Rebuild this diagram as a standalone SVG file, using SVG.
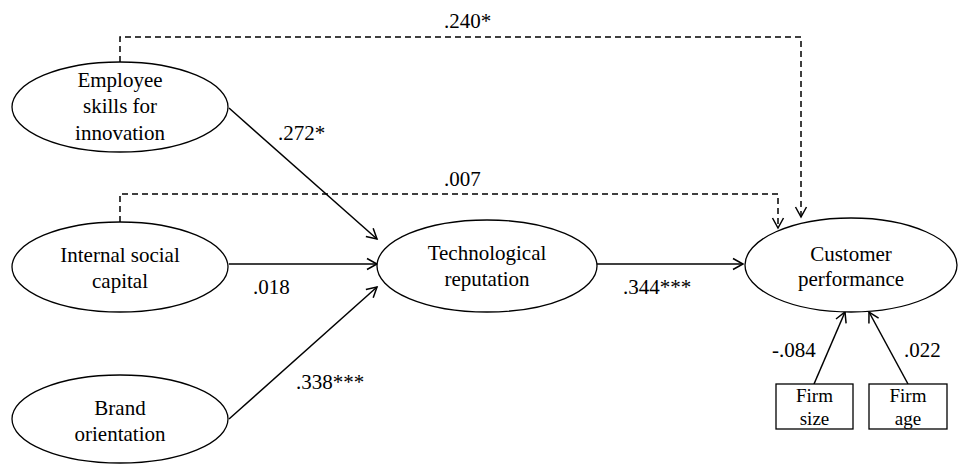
<svg xmlns="http://www.w3.org/2000/svg" width="959" height="464" viewBox="0 0 959 464">
<style>
.n{fill:#fff;stroke:#000;stroke-width:1.3}
.c{fill:none;stroke:#000;stroke-width:1.5}
.d{stroke-dasharray:6 4}
</style>
<defs>
<marker id="a" viewBox="-12 -7 14 14" refX="0" refY="0" markerWidth="14" markerHeight="14" markerUnits="userSpaceOnUse" orient="auto">
<path d="M-10,-5.5 L0,0 L-10,5.5" fill="none" stroke="#000" stroke-width="1.5"/>
</marker>
</defs>
<rect width="959" height="464" fill="#fff"/>
<g font-family="Liberation Serif, serif" font-size="21" fill="#000">
<g id="connectors">
<path class="c d" d="M120,62 V37 H801 V217" marker-end="url(#a)"/>
<path class="c d" d="M120,222 V194 H778 V228" marker-end="url(#a)"/>
<line class="c" x1="229" y1="108" x2="377" y2="239" marker-end="url(#a)"/>
<line class="c" x1="229" y1="264" x2="377" y2="264" marker-end="url(#a)"/>
<line class="c" x1="229" y1="419" x2="377" y2="287" marker-end="url(#a)"/>
<line class="c" x1="597" y1="264" x2="743" y2="264" marker-end="url(#a)"/>
<line class="c" x1="814" y1="384" x2="845" y2="312" marker-end="url(#a)"/>
<line class="c" x1="908" y1="384" x2="869" y2="312" marker-end="url(#a)"/>
<text x="444" y="28">.240*</text>
<text x="278" y="140">.272*</text>
<text x="444" y="186">.007</text>
<text x="253" y="294">.018</text>
<text x="296" y="389">.338***</text>
<text x="623" y="294">.344***</text>
<text x="772" y="357">-.084</text>
<text x="904" y="357">.022</text>
</g>
<g id="employee" text-anchor="middle">
<ellipse class="n" cx="120" cy="107" rx="108" ry="45"/>
<text x="120" y="87">Employee</text>
<text x="120" y="113">skills for</text>
<text x="120" y="140">innovation</text>
</g>
<g id="internal" text-anchor="middle">
<ellipse class="n" cx="120" cy="267" rx="108" ry="45"/>
<text x="120" y="262">Internal social</text>
<text x="120" y="288">capital</text>
</g>
<g id="brand" text-anchor="middle">
<ellipse class="n" cx="120" cy="419" rx="108" ry="44"/>
<text x="120" y="415">Brand</text>
<text x="120" y="441">orientation</text>
</g>
<g id="tech" text-anchor="middle">
<ellipse class="n" cx="487" cy="266" rx="110" ry="46"/>
<text x="487" y="260">Technological</text>
<text x="487" y="286">reputation</text>
</g>
<g id="customer" text-anchor="middle">
<ellipse class="n" cx="851" cy="265" rx="106" ry="47"/>
<text x="851" y="261">Customer</text>
<text x="851" y="286">performance</text>
</g>
<g id="firmsize" text-anchor="middle" font-size="19">
<rect class="n" x="776" y="384" width="77" height="45"/>
<text x="814.5" y="402">Firm</text>
<text x="814.5" y="425">size</text>
</g>
<g id="firmage" text-anchor="middle" font-size="19">
<rect class="n" x="869" y="384" width="78" height="45"/>
<text x="908" y="402">Firm</text>
<text x="908" y="425">age</text>
</g>
</g>
</svg>
